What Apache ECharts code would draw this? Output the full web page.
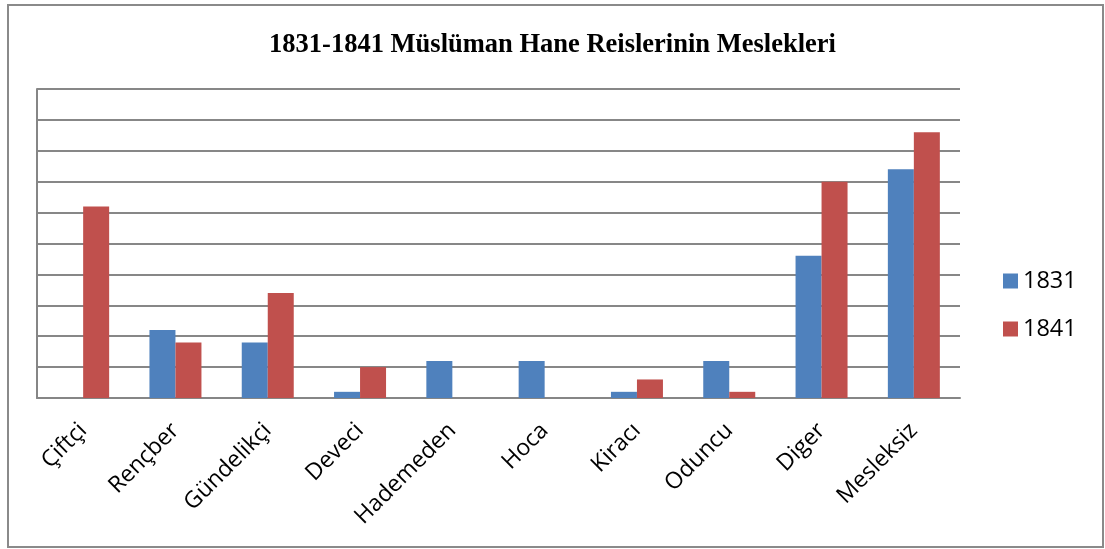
<!DOCTYPE html>
<html>
<head>
<meta charset="utf-8">
<script src="https://cdn.jsdelivr.net/npm/echarts@6/dist/echarts.min.js"></script>
<style>
  html, body { margin: 0; padding: 0; background: #fff; }
  #chart { width: 1105px; height: 549px; }
</style>
</head>
<body>
<div id="chart"></div>
<script>
// meslekler
const categories = ['Çiftçi', 'Rençber', 'Gündelikçi', 'Deveci', 'Hademeden', 'Hoca', 'Kiracı', 'Oduncu', 'Diger', 'Mesleksiz']
// hane reisi sayıları
const values1831 = [0, 11, 9, 1, 6, 6, 1, 6, 23, 37]
const values1841 = [31, 9, 17, 5, 0, 0, 3, 1, 35, 43]
const seriesNames = ['1831', '1841']

const chart = echarts.init(document.getElementById('chart'))

const option = {
  animation: false,
  title: {
    text: '1831-1841 Müslüman Hane Reislerinin Meslekleri',
    left: 'center',
    top: 27,
    textStyle: {
      fontFamily: 'Liberation Serif',
      fontWeight: 'bold',
      fontSize: 26.5,
      color: '#000'
    }
  },
  // dış çerçeve
  graphic: [{
    type: 'rect',
    shape: { x: 8, y: 5, width: 1095, height: 542 },
    style: { fill: 'none', stroke: '#8a8a8a', lineWidth: 2 }
  }],
  legend: {
    orient: 'vertical',
    left: 998,
    top: 264,
    icon: 'rect',
    itemWidth: 15,
    itemHeight: 15,
    itemGap: 24,
    itemTextGap: 7,
    textStyle: { fontFamily: 'Open Sans', fontSize: 23.5, color: '#000' },
    data: seriesNames
  },
  grid: { left: 37, right: 145, top: 89, bottom: 151 },
  xAxis: {
    type: 'category',
    data: categories,
    axisLine: { lineStyle: { color: '#868686', width: 2 } },
    axisTick: { show: false },
    axisLabel: {
      rotate: 45,
      margin: 29,
      interval: 0,
      fontFamily: 'Open Sans',
      fontSize: 23,
      color: '#000'
    }
  },
  yAxis: {
    type: 'value',
    min: 0,
    max: 50,
    interval: 5,
    axisLine: { show: true, lineStyle: { color: '#868686', width: 2 } },
    axisTick: { show: false },
    axisLabel: { show: false },
    splitLine: { lineStyle: { color: '#878787', width: 2 } }
  },
  series: [
    {
      name: seriesNames[0],
      type: 'bar',
      data: values1831,
      barWidth: 26,
      barGap: '0%',
      itemStyle: { color: '#4F81BD' }
    },
    {
      name: seriesNames[1],
      type: 'bar',
      data: values1841,
      barWidth: 26,
      itemStyle: { color: '#C0504D' }
    }
  ]
}
chart.setOption(option)
</script>
</body>
</html>
